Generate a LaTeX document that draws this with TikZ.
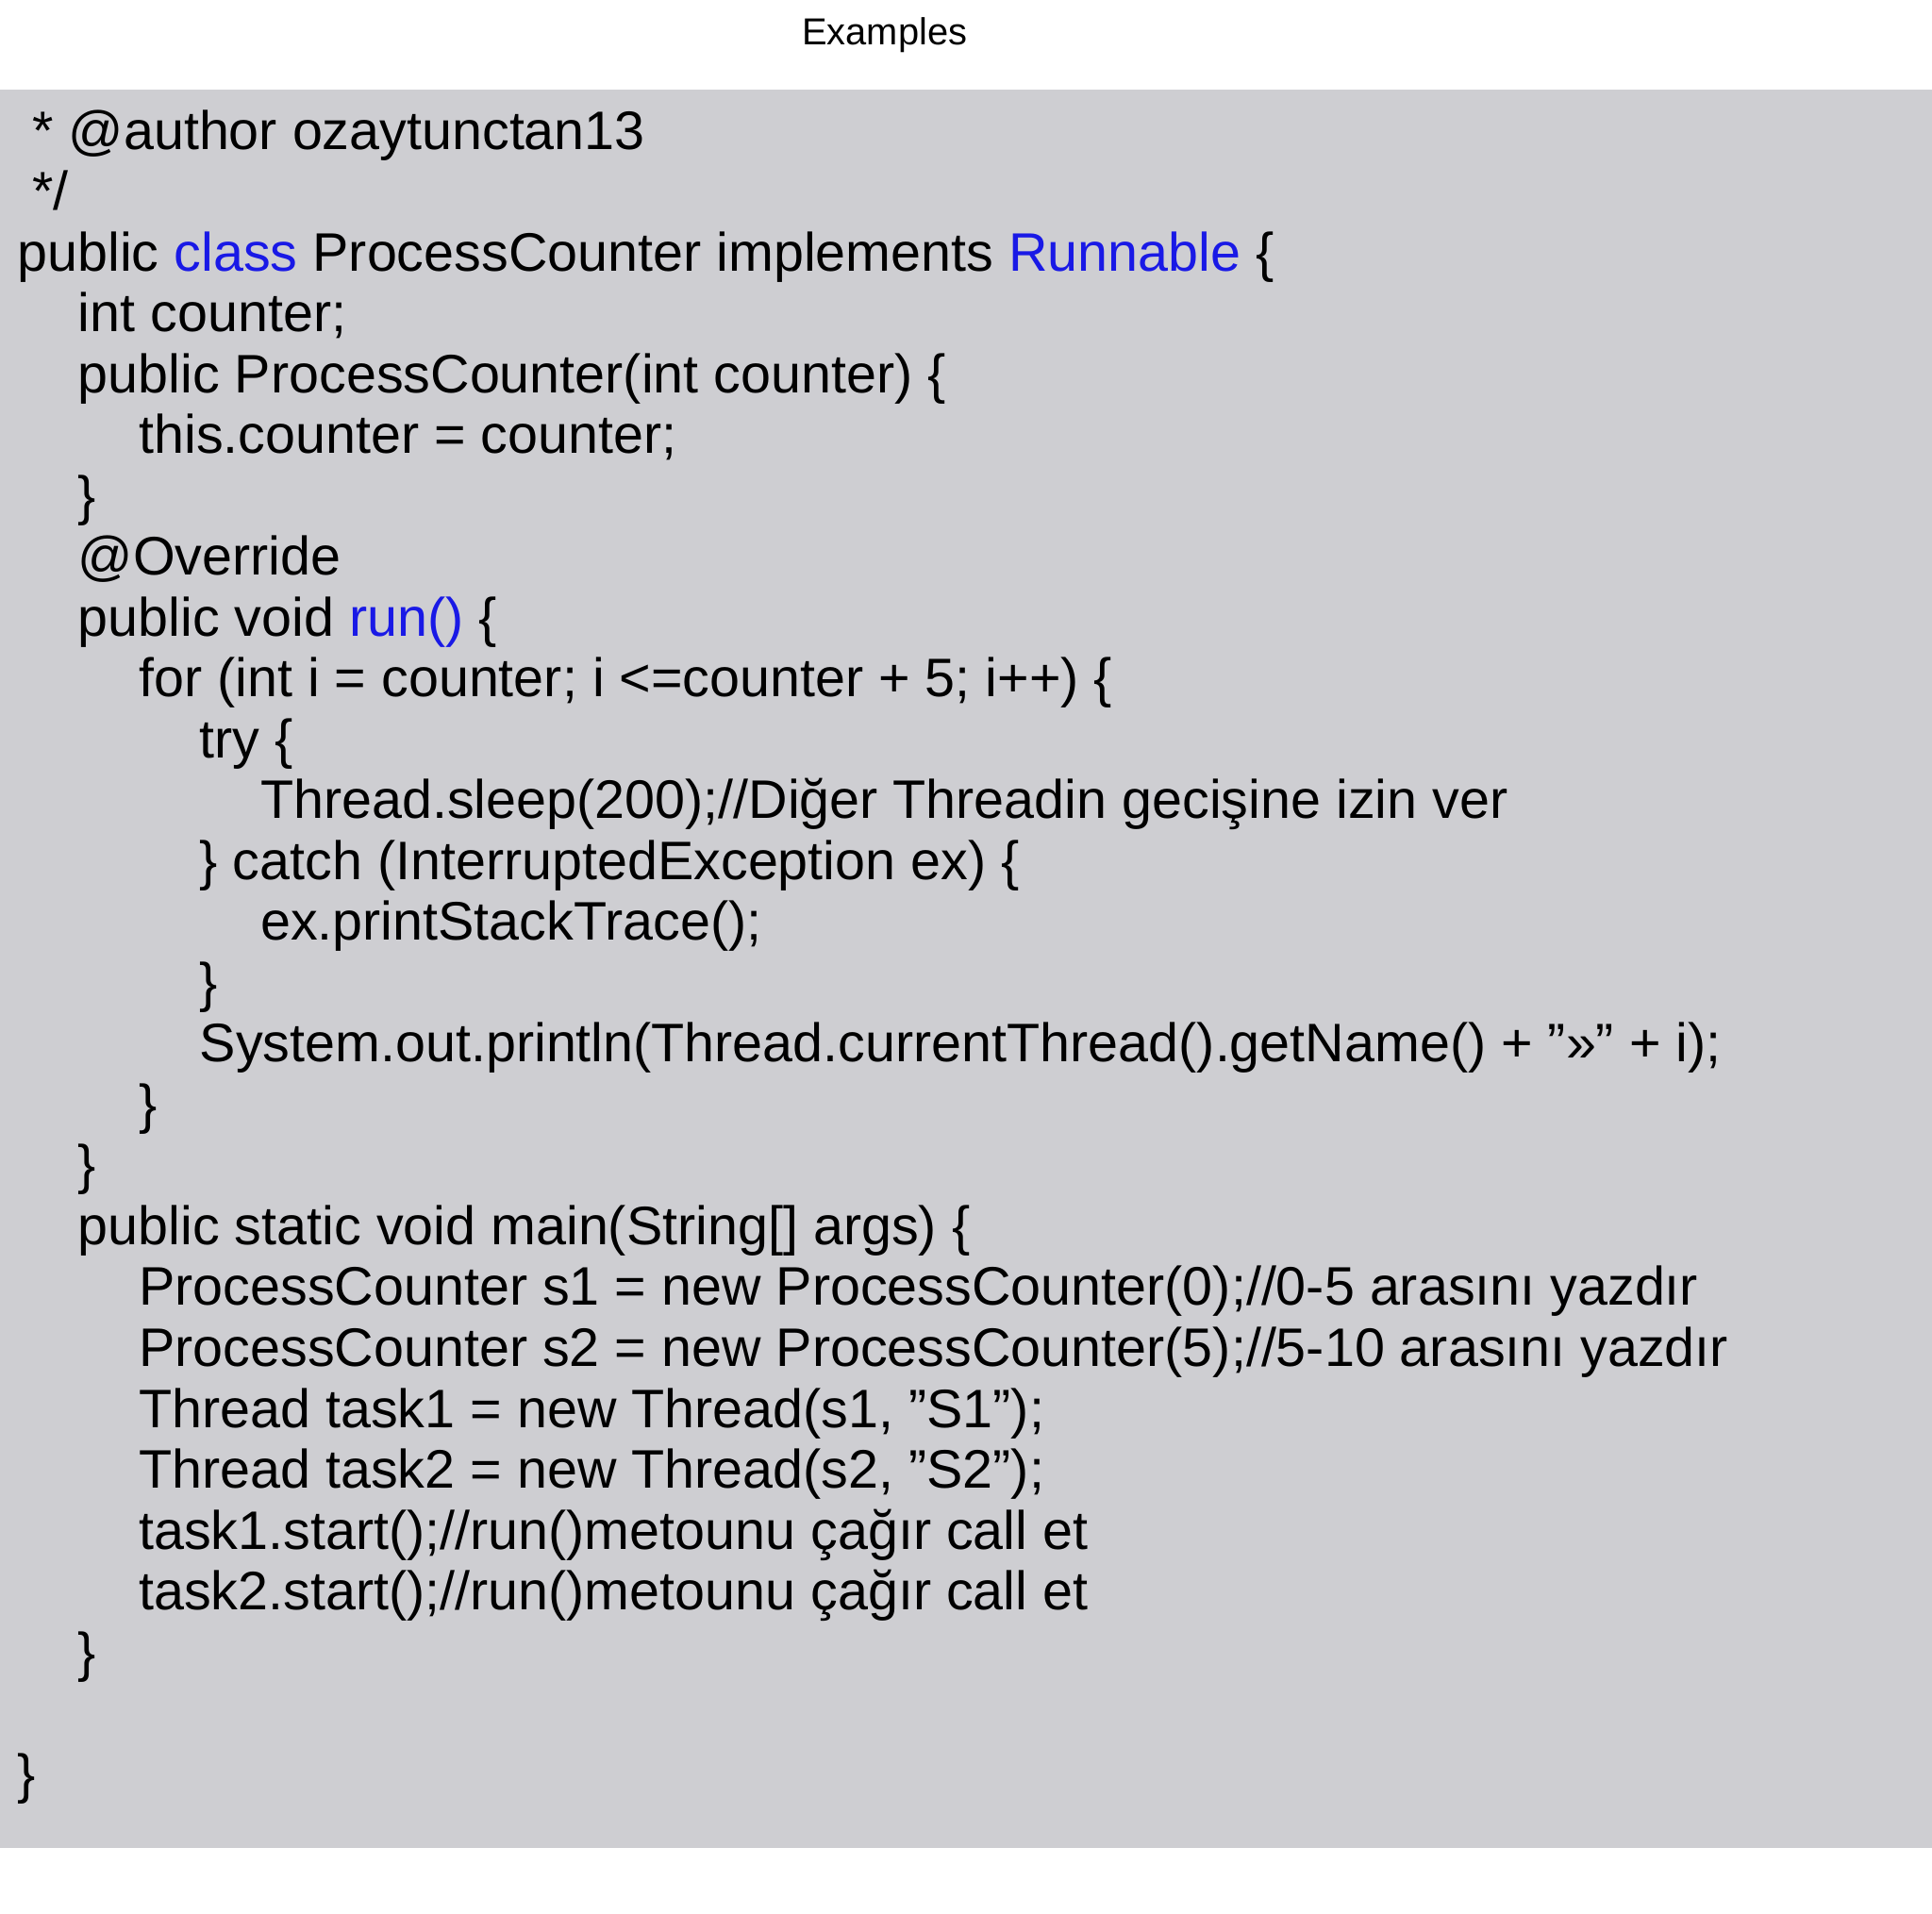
\documentclass[tikz,border=0pt]{standalone}
\usepackage{fontspec}
\setmainfont{Liberation Sans}
\definecolor{bg}{RGB}{206,206,210}
\definecolor{kw}{RGB}{25,25,230}
\begin{document}
\begin{tikzpicture}[x=1pt,y=1pt,
  code/.style={anchor=base west,inner sep=0pt,font=\fontsize{44}{50}\selectfont}]
\useasboundingbox (0,0) rectangle (1568,-1553);
\fill[bg] (0,-73) rectangle (1568,-1500);
\node[anchor=base,inner sep=0pt,font=\fontsize{30.5}{34}\selectfont] (title) at (718,-36) {Examples};
\def\L#1#2#3{\node[code] (l#1) at (14+49.3*#2,-121-49.4*#1) {#3};}
\L{0}{0}{\ * @author ozaytunctan13}
\L{1}{0}{\ */}
\L{2}{0}{public \textcolor{kw}{class} ProcessCounter implements \textcolor{kw}{Runnable} \{}
\L{3}{1}{int counter;}
\L{4}{1}{public ProcessCounter(int counter) \{}
\L{5}{2}{this.counter = counter;}
\L{6}{1}{\}}
\L{7}{1}{@Override}
\L{8}{1}{public void \textcolor{kw}{run()} \{}
\L{9}{2}{for (int i = counter; i <=counter + 5; i++) \{}
\L{10}{3}{try \{}
\L{11}{4}{Thread.sleep(200);//Diğer Threadin gecişine izin ver}
\L{12}{3}{\} catch (InterruptedException ex) \{}
\L{13}{4}{ex.printStackTrace();}
\L{14}{3}{\}}
\L{15}{3}{System.out.println(Thread.currentThread().getName() + ">>" + i);}
\L{16}{2}{\}}
\L{17}{1}{\}}
\L{18}{1}{public static void main(String[] args) \{}
\L{19}{2}{ProcessCounter s1 = new ProcessCounter(0);//0-5 arasını yazdır}
\L{20}{2}{ProcessCounter s2 = new ProcessCounter(5);//5-10 arasını yazdır}
\L{21}{2}{Thread task1 = new Thread(s1, "S1");}
\L{22}{2}{Thread task2 = new Thread(s2, "S2");}
\L{23}{2}{task1.start();//run()metounu çağır call et}
\L{24}{2}{task2.start();//run()metounu çağır call et}
\L{25}{1}{\}}
\L{27}{0}{\}}
\end{tikzpicture}
\end{document}
